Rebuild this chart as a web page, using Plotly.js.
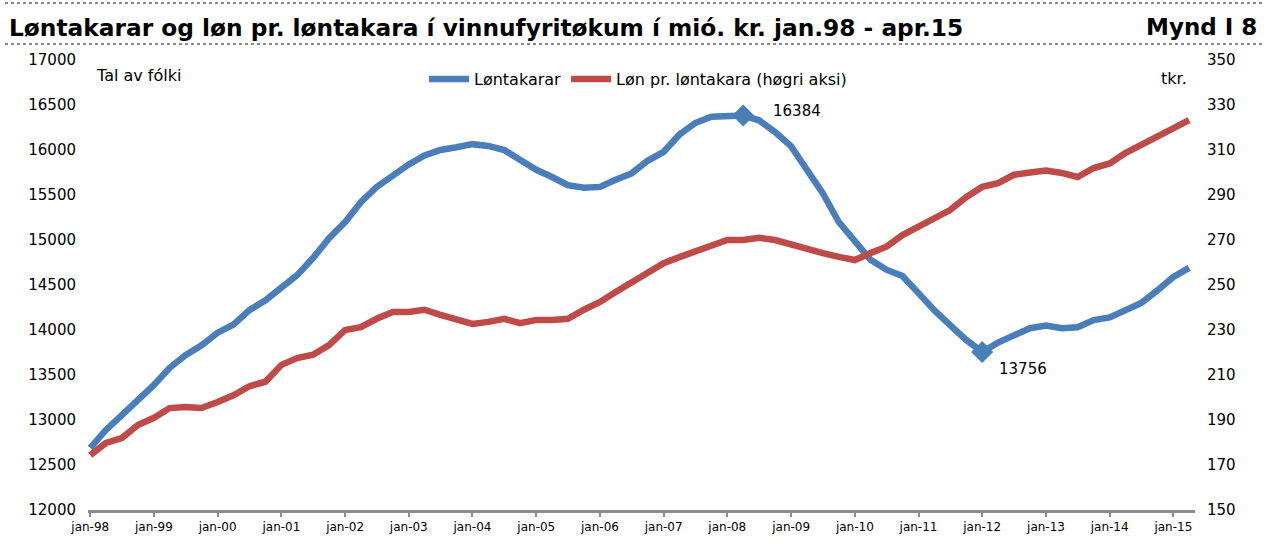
<!DOCTYPE html>
<html>
<head>
<meta charset="utf-8">
<script src="https://cdn.plot.ly/plotly-3.0.1.min.js"></script>
<style>
html,body{margin:0;padding:0;background:#fff;}
#chart{width:1267px;height:544px;}
</style>
</head>
<body>
<div id="chart"></div>
<script>
// Quarterly readings (jan, apr, jul, oct)
const months = [
 '1998-01-01','1998-04-01','1998-07-01','1998-10-01',
 '1999-01-01','1999-04-01','1999-07-01','1999-10-01',
 '2000-01-01','2000-04-01','2000-07-01','2000-10-01',
 '2001-01-01','2001-04-01','2001-07-01','2001-10-01',
 '2002-01-01','2002-04-01','2002-07-01','2002-10-01',
 '2003-01-01','2003-04-01','2003-07-01','2003-10-01',
 '2004-01-01','2004-04-01','2004-07-01','2004-10-01',
 '2005-01-01','2005-04-01','2005-07-01','2005-10-01',
 '2006-01-01','2006-04-01','2006-07-01','2006-10-01',
 '2007-01-01','2007-04-01','2007-07-01','2007-10-01',
 '2008-01-01','2008-04-01','2008-07-01','2008-10-01',
 '2009-01-01','2009-04-01','2009-07-01','2009-10-01',
 '2010-01-01','2010-04-01','2010-07-01','2010-10-01',
 '2011-01-01','2011-04-01','2011-07-01','2011-10-01',
 '2012-01-01','2012-04-01','2012-07-01','2012-10-01',
 '2013-01-01','2013-04-01','2013-07-01','2013-10-01',
 '2014-01-01','2014-04-01','2014-07-01','2014-10-01',
 '2015-01-01','2015-04-01'
];
const lontakarar = [
 12690,12890,13055,13220,
 13390,13580,13720,13830,
 13970,14060,14220,14330,
 14470,14610,14800,15020,
 15200,15420,15590,15720,
 15840,15940,16000,16030,
 16065,16045,16000,15890,
 15780,15700,15610,15580,
 15590,15670,15740,15880,
 15980,16170,16300,16370,
 16380,16384,16330,16200,
 16040,15780,15520,15200,
 14980,14780,14670,14600,
 14410,14220,14055,13890,
 13756,13860,13940,14020,
 14050,14020,14030,14110,
 14140,14220,14300,14440,
 14590,14690
];
const lonPrLontakara = [
 174.4,179.8,182.0,187.8,
 191.0,195.3,195.8,195.3,
 198.0,201.0,205.0,207.0,
 214.5,217.5,219.0,223.3,
 230.0,231.3,235.0,238.0,
 238.0,239.0,236.7,234.5,
 232.7,233.6,235.0,233.0,
 234.5,234.5,235.0,239.0,
 242.5,246.9,251.0,255.0,
 259.7,262.4,265.0,267.0,
 270.0,270.0,271.0,270.0,
 267.8,266.4,264.2,262.5,
 261.1,264.2,267.0,272.2,
 275.8,279.0,283.3,289.0,
 293.6,295.3,299.0,300.0,
 300.9,299.8,298.0,302.0,
 304.0,308.6,312.2,315.8,
 320.0,323.3
];
const highlightDates = ['2008-04-01','2012-01-01'];
const highlightValues = [16384, 13756];
const tickDates = ['1998-01-01','1999-01-01','2000-01-01','2001-01-01','2002-01-01','2003-01-01',
 '2004-01-01','2005-01-01','2006-01-01','2007-01-01','2008-01-01','2009-01-01','2010-01-01',
 '2011-01-01','2012-01-01','2013-01-01','2014-01-01','2015-01-01'];
const tickLabels = ['jan-98','jan-99','jan-00','jan-01','jan-02','jan-03','jan-04','jan-05','jan-06',
 'jan-07','jan-08','jan-09','jan-10','jan-11','jan-12','jan-13','jan-14','jan-15'];
const seriesNames = ['Løntakarar','Løn pr. løntakara (høgri aksi)'];
const titleText = 'Løntakarar og løn pr. løntakara í vinnufyritøkum í mió. kr. jan.98 - apr.15';
const figText = 'Mynd I 8';

const BLUE = '#4a7ebb', RED = '#be4b48';
const FONT = 'DejaVu Sans, Verdana, sans-serif';

const traces = [
 {x: months, y: lontakarar, name: seriesNames[0], type: 'scatter', mode: 'lines',
  line: {color: BLUE, width: 6.5}, yaxis: 'y'},
 {x: months, y: lonPrLontakara, name: seriesNames[1], type: 'scatter', mode: 'lines',
  line: {color: RED, width: 6.5}, yaxis: 'y2'},
 {x: highlightDates, y: highlightValues, type: 'scatter', mode: 'markers', showlegend: false,
  marker: {symbol: 'diamond', size: 17, color: BLUE}, yaxis: 'y', hoverinfo: 'skip'}
];

// pixel helpers for paper coords (plot area 88..1195 x, 60..510 y)
const L = 88, R = 1195, T = 60, B = 510;
const px = X => (X - L) / (R - L);
const py = Y => (B - Y) / (B - T);

const layout = {
 width: 1267, height: 544,
 margin: {l: L, r: 1267 - R, t: T, b: 544 - B, pad: 0},
 paper_bgcolor: '#fff', plot_bgcolor: '#fff',
 font: {family: FONT, size: 15, color: '#000'},
 showlegend: true,
 legend: {orientation: 'h', x: px(638), y: py(79), xanchor: 'center', yanchor: 'middle',
  font: {family: FONT, size: 16, color: '#000'}, bgcolor: 'rgba(0,0,0,0)', itemwidth: 40,
  traceorder: 'normal'},
 xaxis: {type: 'date', range: ['1997-12-19', '2015-05-05'], tickmode: 'array',
  tickvals: tickDates, ticktext: tickLabels, showgrid: false, zeroline: false,
  showline: true, linecolor: '#8c8c8c', linewidth: 3, ticks: 'outside', ticklen: 4,
  tickwidth: 2, tickcolor: '#8c8c8c', tickfont: {family: FONT, size: 12, color: '#000'},
  ticklabelstandoff: 0},
 yaxis: {range: [12000, 17000], dtick: 500, tick0: 12000, tickformat: 'd', showgrid: false,
  zeroline: false, showline: false, ticks: '', tickfont: {family: FONT, size: 15, color: '#000'},
  ticklabelstandoff: 11},
 yaxis2: {range: [150, 350], dtick: 20, tick0: 150, tickformat: 'd', overlaying: 'y', side: 'right',
  showgrid: false, zeroline: false, showline: false, ticks: '',
  tickfont: {family: FONT, size: 15, color: '#000'}, ticklabelstandoff: 11},
 shapes: [
  {type: 'line', xref: 'paper', yref: 'paper', x0: px(5), x1: px(1262), y0: py(3), y1: py(3),
   line: {color: '#8a8a8a', width: 2, dash: 'dot'}},
  {type: 'line', xref: 'paper', yref: 'paper', x0: px(5), x1: px(1262), y0: py(44), y1: py(44),
   line: {color: '#8a8a8a', width: 2, dash: 'dot'}}
 ],
 annotations: [
  {text: '<b>' + titleText + '</b>', xref: 'paper', yref: 'paper', x: px(7), y: py(27),
   xanchor: 'left', yanchor: 'middle', showarrow: false,
   font: {family: FONT, size: 23.3, color: '#000'}},
  {text: '<b>' + figText + '</b>', xref: 'paper', yref: 'paper', x: px(1259), y: py(27),
   xanchor: 'right', yanchor: 'middle', showarrow: false,
   font: {family: FONT, size: 23, color: '#000'}},
  {text: 'Tal av fólki', xref: 'paper', yref: 'paper', x: px(94), y: py(75),
   xanchor: 'left', yanchor: 'middle', showarrow: false, font: {family: FONT, size: 16}},
  {text: 'tkr.', xref: 'paper', yref: 'paper', x: px(1189), y: py(78),
   xanchor: 'right', yanchor: 'middle', showarrow: false, font: {family: FONT, size: 16}},
  {text: String(highlightValues[0]), x: highlightDates[0], y: highlightValues[0], xref: 'x', yref: 'y',
   xanchor: 'left', yanchor: 'middle', xshift: 28, yshift: 4, showarrow: false,
   font: {family: FONT, size: 15}},
  {text: String(highlightValues[1]), x: highlightDates[1], y: highlightValues[1], xref: 'x', yref: 'y',
   xanchor: 'left', yanchor: 'middle', xshift: 15, yshift: -17, showarrow: false,
   font: {family: FONT, size: 15}}
 ]
};

Plotly.newPlot('chart', traces, layout, {staticPlot: true, displayModeBar: false});
</script>
</body>
</html>
